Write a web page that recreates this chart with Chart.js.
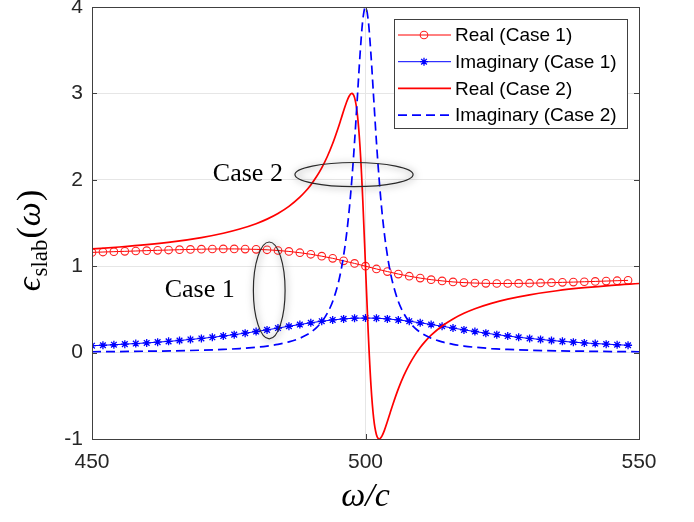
<!DOCTYPE html>
<html>
<head>
<meta charset="utf-8">
<script src="https://cdn.jsdelivr.net/npm/chart.js@4.4.0/dist/chart.umd.min.js"></script>
<style>
  html, body { margin: 0; padding: 0; background: #fff; }
  canvas { display: block; }
</style>
</head>
<body>
<canvas id="chart" width="694" height="522"></canvas>
<script>
// Case 1: sampled every 2 units, drawn with markers
const case1X = [450, 452, 454, 456, 458, 460, 462, 464, 466, 468, 470, 472, 474, 476, 478, 480, 482, 484, 486, 488,
    490, 492, 494, 496, 498, 500, 502, 504, 506, 508, 510, 512, 514, 516, 518, 520, 522, 524, 526, 528,
    530, 532, 534, 536, 538, 540, 542, 544, 546, 548];
const case1Real = [1.160, 1.164, 1.168, 1.172, 1.176, 1.180, 1.184, 1.187, 1.191, 1.194, 1.197, 1.199, 1.200, 1.200, 1.198, 1.195, 1.190, 1.182, 1.171, 1.156,
    1.138, 1.116, 1.091, 1.062, 1.032, 1.000, 0.968, 0.938, 0.909, 0.884, 0.862, 0.844, 0.830, 0.818, 0.810, 0.805, 0.802, 0.800, 0.800, 0.801,
    0.803, 0.806, 0.809, 0.813, 0.816, 0.820, 0.824, 0.828, 0.832, 0.836];
const case1Imag = [0.080, 0.085, 0.091, 0.098, 0.105, 0.112, 0.121, 0.130, 0.140, 0.152, 0.164, 0.177, 0.192, 0.208, 0.225, 0.244, 0.263, 0.284, 0.305, 0.325,
    0.345, 0.363, 0.378, 0.390, 0.398, 0.400, 0.398, 0.390, 0.378, 0.363, 0.345, 0.325, 0.305, 0.284, 0.263, 0.244, 0.225, 0.208, 0.192, 0.177,
    0.164, 0.152, 0.140, 0.130, 0.121, 0.112, 0.105, 0.098, 0.091, 0.085];

// Case 2: sharp resonance, denser near 500
const case2X = [450, 455, 460, 465, 470, 474, 477, 480, 482, 484, 486, 488, 489, 490, 491, 492, 493, 494, 495,
    495.5, 496, 496.5, 497, 497.5, 498, 498.5, 499, 499.5, 500, 500.5, 501, 501.5, 502, 502.5, 503, 503.5, 504, 504.5, 505,
    506, 507, 508, 509, 510, 511, 512, 514, 516, 518, 520, 523, 526, 530, 535, 540, 545, 550];
const case2Real = [1.200, 1.222, 1.249, 1.284, 1.331, 1.381, 1.430, 1.492, 1.545, 1.610, 1.692, 1.799, 1.864, 1.941, 2.032, 2.139, 2.267, 2.420, 2.600,
    2.698, 2.798, 2.892, 2.967, 3.000, 2.951, 2.765, 2.379, 1.769, 1.000, 0.231, -0.379, -0.765, -0.951, -1.000, -0.967, -0.892, -0.798, -0.698, -0.600,
    -0.420, -0.267, -0.139, -0.032, 0.059, 0.136, 0.201, 0.308, 0.390, 0.455, 0.508, 0.570, 0.619, 0.669, 0.716, 0.751, 0.779, 0.800];
const case2Imag = [0.010, 0.012, 0.016, 0.020, 0.028, 0.037, 0.047, 0.062, 0.076, 0.095, 0.124, 0.166, 0.197, 0.235, 0.287, 0.356, 0.453, 0.592, 0.800,
    0.943, 1.124, 1.351, 1.639, 2.000, 2.439, 2.941, 3.448, 3.846, 4.000, 3.846, 3.448, 2.941, 2.439, 2.000, 1.639, 1.351, 1.124, 0.943, 0.800,
    0.592, 0.453, 0.356, 0.287, 0.235, 0.197, 0.166, 0.124, 0.095, 0.076, 0.062, 0.047, 0.037, 0.028, 0.020, 0.016, 0.012, 0.010];

const seriesLabels = ['Real (Case 1)', 'Imaginary (Case 1)', 'Real (Case 2)', 'Imaginary (Case 2)'];
const xTicks = [450, 500, 550];
const yTicks = [-1, 0, 1, 2, 3, 4];

// circled groups, in data units
const notes = [
    { label: 'Case 1', tx: 469.7, ty: 0.72, ex: 482.4, ey: 0.72, rx: 2.9, ry: 0.56 },
    { label: 'Case 2', tx: 478.5, ty: 2.07, ex: 497.9, ey: 2.06, rx: 10.8, ry: 0.14 }
];

const SANS = "'Liberation Sans', Arial, sans-serif";
const SERIF = "'Liberation Serif', 'DejaVu Serif', serif";
const AXIS = '#404040';

function pairs(xs, ys) {
    return xs.map((x, i) => ({ x: x, y: ys[i] }));
}

function drawMarker(ctx, style, x, y, r) {
    ctx.beginPath();
    if (style === 'circle') {
        ctx.arc(x, y, r, 0, Math.PI * 2);
    } else if (style === 'star') {
        const d = r * Math.SQRT1_2;
        ctx.moveTo(x - r, y); ctx.lineTo(x + r, y);
        ctx.moveTo(x, y - r); ctx.lineTo(x, y + r);
        ctx.moveTo(x - d, y - d); ctx.lineTo(x + d, y + d);
        ctx.moveTo(x - d, y + d); ctx.lineTo(x + d, y - d);
    }
    ctx.stroke();
}

const extras = {
    id: 'extras',
    afterDatasetsDraw(chart) {
        const ctx = chart.ctx, xs = chart.scales.x, ys = chart.scales.y;
        notes.forEach(n => {
            const cx = xs.getPixelForValue(n.ex), cy = ys.getPixelForValue(n.ey);
            const rx = Math.abs(xs.getPixelForValue(n.ex + n.rx) - cx);
            const ry = Math.abs(ys.getPixelForValue(n.ey + n.ry) - cy);
            ctx.save();
            ctx.shadowColor = 'rgba(0,0,0,0.55)';
            ctx.shadowBlur = 7;
            ctx.shadowOffsetX = 1;
            ctx.shadowOffsetY = 1;
            ctx.strokeStyle = '#2a2a2a';
            ctx.lineWidth = 1.2;
            ctx.beginPath();
            ctx.ellipse(cx, cy, rx, ry, 0, 0, Math.PI * 2);
            ctx.stroke();
            ctx.restore();

            ctx.save();
            ctx.font = '26px ' + SERIF;
            ctx.fillStyle = '#000';
            ctx.textAlign = 'center';
            ctx.textBaseline = 'middle';
            ctx.fillText(n.label, xs.getPixelForValue(n.tx), ys.getPixelForValue(n.ty));
            ctx.restore();
        });
    },
    afterDraw(chart) {
        const ctx = chart.ctx, a = chart.chartArea, xs = chart.scales.x, ys = chart.scales.y;
        ctx.save();

        // box and inward ticks
        ctx.strokeStyle = AXIS;
        ctx.lineWidth = 1;
        ctx.strokeRect(Math.round(a.left) + 0.5, Math.round(a.top) + 0.5, Math.round(a.right - a.left), Math.round(a.bottom - a.top));
        ctx.beginPath();
        xTicks.forEach(v => {
            const px = Math.round(xs.getPixelForValue(v)) + 0.5;
            ctx.moveTo(px, a.bottom); ctx.lineTo(px, a.bottom - 5);
            ctx.moveTo(px, a.top); ctx.lineTo(px, a.top + 5);
        });
        yTicks.forEach(v => {
            const py = Math.round(ys.getPixelForValue(v)) + 0.5;
            ctx.moveTo(a.left, py); ctx.lineTo(a.left + 5, py);
            ctx.moveTo(a.right, py); ctx.lineTo(a.right - 5, py);
        });
        ctx.stroke();

        // legend
        const lx = 394, ly = 19, lw = 233, lh = 109;
        ctx.fillStyle = '#fff';
        ctx.fillRect(lx, ly, lw, lh);
        ctx.strokeStyle = AXIS;
        ctx.strokeRect(lx + 0.5, ly + 0.5, lw, lh);
        chart.data.datasets.forEach((ds, i) => {
            const yy = 35 + i * 26.7;
            ctx.save();
            ctx.strokeStyle = ds.borderColor;
            ctx.lineWidth = ds.borderWidth;
            ctx.setLineDash(ds.borderDash || []);
            ctx.beginPath();
            ctx.moveTo(398, yy);
            ctx.lineTo(451, yy);
            ctx.stroke();
            ctx.setLineDash([]);
            if (ds.pointRadius > 0) {
                ctx.strokeStyle = ds.pointBorderColor;
                ctx.lineWidth = ds.pointBorderWidth;
                drawMarker(ctx, ds.pointStyle, 424, yy, ds.pointRadius);
            }
            ctx.restore();
            ctx.font = '19px ' + SANS;
            ctx.fillStyle = '#000';
            ctx.textAlign = 'left';
            ctx.textBaseline = 'middle';
            ctx.fillText(ds.label, 455, yy + 1);
        });

        // x title: omega / c
        ctx.fillStyle = '#000';
        ctx.font = 'italic 34px ' + SERIF;
        ctx.textAlign = 'center';
        ctx.textBaseline = 'alphabetic';
        ctx.fillText('ω/c', (a.left + a.right) / 2, 506);

        // y title: epsilon_slab(omega), rotated
        const parts = [
            { t: 'ϵ', f: 'italic 34px ' + SERIF, dy: 0 },
            { t: 'slab', f: '23px ' + SERIF, dy: 7 },
            { t: '(', f: '34px ' + SERIF, dy: 0 },
            { t: 'ω', f: 'italic 34px ' + SERIF, dy: 0 },
            { t: ')', f: '34px ' + SERIF, dy: 0 }
        ];
        let total = 0;
        parts.forEach(p => { ctx.font = p.f; p.w = ctx.measureText(p.t).width + 1; total += p.w; });
        ctx.translate(40, 240);
        ctx.rotate(-Math.PI / 2);
        ctx.textAlign = 'left';
        let cur = -total / 2;
        parts.forEach(p => {
            ctx.font = p.f;
            ctx.fillText(p.t, cur, p.dy);
            cur += p.w;
        });
        ctx.restore();
    }
};

const ctx = document.getElementById('chart').getContext('2d');
new Chart(ctx, {
    type: 'line',
    data: {
        datasets: [
            {
                label: seriesLabels[0],
                data: pairs(case1X, case1Real),
                borderColor: '#ff0000',
                borderWidth: 1,
                pointStyle: 'circle',
                pointRadius: 3.8,
                pointBorderColor: '#ff2020',
                pointBackgroundColor: 'rgba(0,0,0,0)',
                pointBorderWidth: 1.1,
                order: 4
            },
            {
                label: seriesLabels[1],
                data: pairs(case1X, case1Imag),
                borderColor: '#0000ff',
                borderWidth: 1,
                pointStyle: 'star',
                pointRadius: 4,
                pointBorderColor: '#0000ff',
                pointBackgroundColor: '#0000ff',
                pointBorderWidth: 1.3,
                order: 3
            },
            {
                label: seriesLabels[2],
                data: pairs(case2X, case2Real),
                borderColor: '#ff0000',
                borderWidth: 1.7,
                pointRadius: 0,
                cubicInterpolationMode: 'monotone',
                order: 2
            },
            {
                label: seriesLabels[3],
                data: pairs(case2X, case2Imag),
                borderColor: '#0000ff',
                borderWidth: 1.7,
                borderDash: [9, 5],
                pointRadius: 0,
                cubicInterpolationMode: 'monotone',
                order: 1
            }
        ]
    },
    options: {
        responsive: false,
        animation: false,
        layout: { padding: { top: 7, right: 55, bottom: 0, left: 0 } },
        plugins: {
            legend: { display: false },
            tooltip: { enabled: false }
        },
        scales: {
            x: {
                type: 'linear',
                min: 450,
                max: 550,
                afterBuildTicks: s => { s.ticks = xTicks.map(v => ({ value: v })); },
                ticks: { color: '#262626', padding: 11, font: { family: SANS, size: 21 } },
                grid: { color: '#e6e6e6', drawTicks: false },
                border: { color: AXIS },
                afterFit: s => { s.height = 83; }
            },
            y: {
                min: -1,
                max: 4,
                afterBuildTicks: s => { s.ticks = yTicks.map(v => ({ value: v })); },
                ticks: { color: '#262626', padding: 9, font: { family: SANS, size: 21 } },
                grid: { color: '#e6e6e6', drawTicks: false },
                border: { color: AXIS },
                afterFit: s => { s.width = 92; s.paddingTop = 0; s.paddingBottom = 0; }
            }
        }
    },
    plugins: [extras]
});
</script>
</body>
</html>
